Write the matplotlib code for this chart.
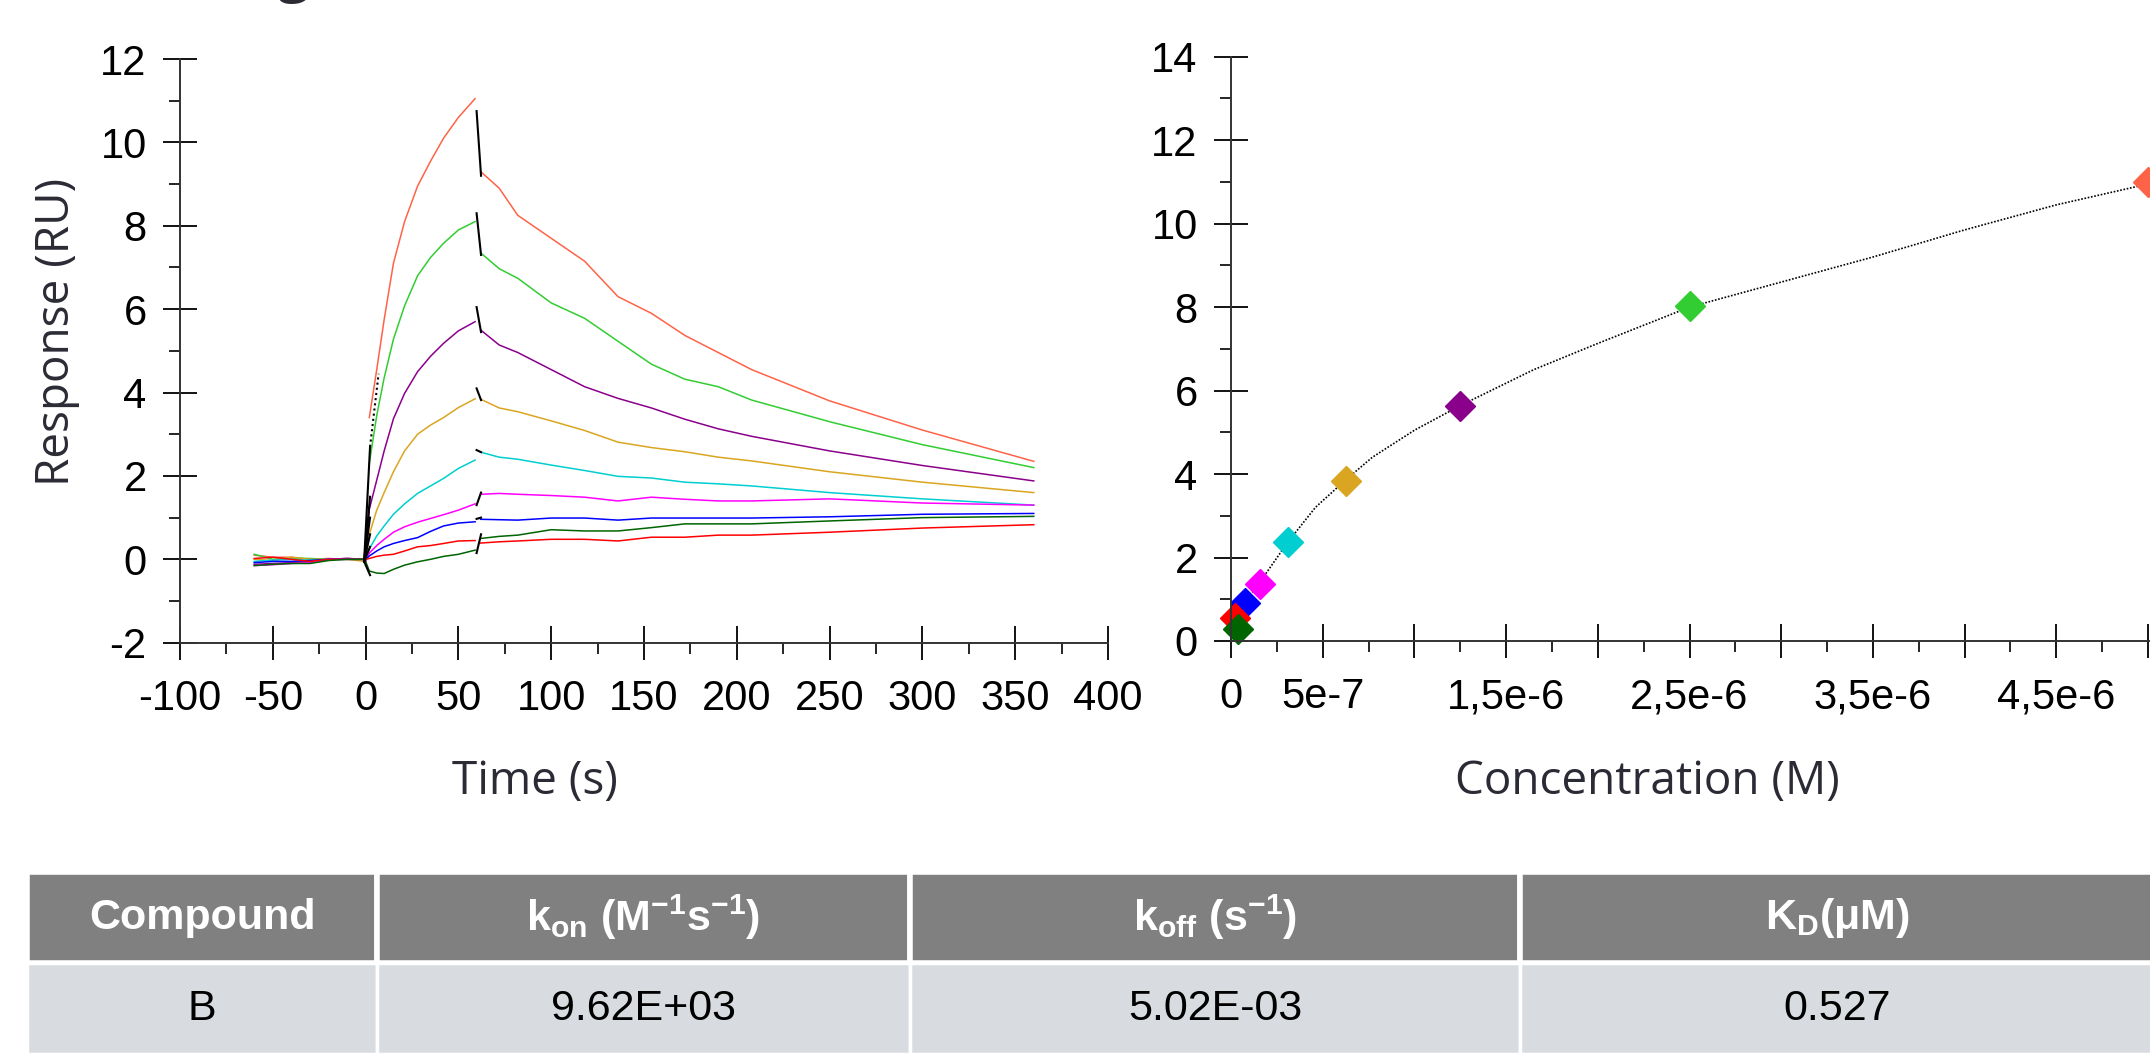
import numpy as np
import matplotlib
matplotlib.use("Agg")
import matplotlib.pyplot as plt
from matplotlib.ticker import MultipleLocator, FixedLocator, FixedFormatter

plt.rcParams['font.family'] = ['Liberation Sans', 'DejaVu Sans']
plt.rcParams['axes.unicode_minus'] = False
plt.rcParams['mathtext.fontset'] = 'custom'
plt.rcParams['mathtext.rm'] = 'Liberation Sans:bold'
plt.rcParams['mathtext.it'] = 'Liberation Sans:bold'
plt.rcParams['mathtext.bf'] = 'Liberation Sans:bold'

# ---------------- sensorgram data ----------------
colors = ['tomato', 'limegreen', 'darkmagenta', 'goldenrod', 'darkturquoise',
          'magenta', 'blue', 'red', 'darkgreen']

t_base = [-60, -50, -40, -30, -20, -10, 0]
base_resp = [
    [0.10, 0.05, 0.05, 0.00, 0.02, 0.00, 0.00],
    [0.12, 0.00, 0.03, 0.02, 0.00, 0.02, 0.00],
    [-0.12, -0.10, -0.08, -0.05, 0.00, 0.02, 0.00],
    [0.00, -0.03, 0.05, 0.00, 0.00, 0.00, -0.05],
    [-0.05, -0.02, 0.00, -0.02, 0.00, 0.00, 0.00],
    [-0.15, -0.13, -0.10, -0.08, 0.00, 0.02, 0.00],
    [-0.08, -0.05, -0.05, -0.03, 0.00, 0.00, 0.00],
    [0.02, 0.05, 0.00, -0.05, 0.00, 0.00, 0.00],
    [-0.15, -0.12, -0.10, -0.10, -0.03, 0.00, 0.00],
]

t_assoc = [0, 2, 6, 10, 15, 21, 28, 35, 42, 50, 59]
assoc_resp = [
    [np.nan, 3.40, 4.55, 5.75, 7.10, 8.10, 8.95, 9.55, 10.10, 10.60, 11.05],
    [np.nan, 2.30, 3.45, 4.35, 5.28, 6.08, 6.80, 7.24, 7.58, 7.90, 8.10],
    [0.00, 1.20, 1.90, 2.60, 3.37, 3.98, 4.50, 4.87, 5.18, 5.48, 5.70],
    [0.00, 0.60, 1.18, 1.60, 2.10, 2.60, 3.00, 3.22, 3.40, 3.64, 3.85],
    [0.00, 0.25, 0.56, 0.80, 1.08, 1.33, 1.58, 1.76, 1.94, 2.18, 2.38],
    [-0.05, 0.15, 0.33, 0.48, 0.65, 0.78, 0.89, 0.98, 1.07, 1.18, 1.33],
    [0.00, 0.08, 0.20, 0.30, 0.38, 0.45, 0.52, 0.67, 0.80, 0.87, 0.90],
    [0.00, 0.02, 0.07, 0.10, 0.12, 0.20, 0.30, 0.33, 0.38, 0.44, 0.45],
    [-0.05, -0.28, -0.33, -0.34, -0.24, -0.14, -0.06, 0.00, 0.07, 0.12, 0.22],
]

t_dissoc = [62, 72, 82, 100, 118, 136, 154, 172, 190, 208, 250, 300, 360]
dissoc_resp = [
    [9.30, 8.90, 8.25, 7.70, 7.15, 6.30, 5.90, 5.37, 4.96, 4.55, 3.80, 3.10, 2.35],
    [7.35, 6.97, 6.74, 6.15, 5.78, 5.23, 4.68, 4.32, 4.14, 3.82, 3.30, 2.75, 2.20],
    [5.50, 5.14, 4.96, 4.55, 4.14, 3.86, 3.63, 3.36, 3.13, 2.95, 2.60, 2.25, 1.88],
    [3.84, 3.63, 3.54, 3.32, 3.09, 2.81, 2.68, 2.58, 2.45, 2.36, 2.10, 1.85, 1.60],
    [2.57, 2.45, 2.40, 2.26, 2.13, 1.99, 1.95, 1.85, 1.81, 1.76, 1.60, 1.45, 1.30],
    [1.56, 1.58, 1.56, 1.53, 1.49, 1.40, 1.49, 1.44, 1.40, 1.40, 1.45, 1.35, 1.30],
    [0.96, 0.95, 0.94, 0.99, 0.99, 0.94, 0.99, 0.99, 0.99, 0.99, 1.02, 1.08, 1.10],
    [0.39, 0.42, 0.44, 0.48, 0.48, 0.44, 0.53, 0.53, 0.58, 0.58, 0.65, 0.75, 0.83],
    [0.50, 0.55, 0.58, 0.71, 0.68, 0.68, 0.76, 0.85, 0.85, 0.85, 0.92, 1.00, 1.03],
]

# black fit pieces: jump at end of injection (t 60 -> 62) and start of injection
fit_jump_t = [59.8, 62.2]
fit_jump = [[10.75, 9.20], [8.30, 7.30], [6.05, 5.45], [4.10, 3.82], [2.62, 2.57],
            [1.30, 1.60], [0.97, 1.00], [0.15, 0.60]]
fit_start_t = [-0.8, 2.4]
fit_start = [[-0.05, 2.70], [-0.05, 1.50], [-0.05, 1.00], [-0.05, 0.60],
             [-0.05, 0.30], [-0.05, -0.38]]
fit_dot_t = [2.4, 7.0]
fit_dot = [2.70, 4.45]

# ---------------- steady-state data ----------------
conc = [5.0e-6, 2.5e-6, 1.25e-6, 6.25e-7, 3.125e-7, 1.5625e-7, 7.8e-8, 1.95e-8, 3.9e-8]
req = [11.0, 8.02, 5.63, 3.84, 2.38, 1.37, 0.92, 0.54, 0.28]
fit_conc = [0, 2e-8, 7.8e-8, 1.56e-7, 3.1e-7, 4.6e-7, 6.2e-7, 7.7e-7, 1.0e-6, 1.25e-6,
            1.65e-6, 2.0e-6, 2.5e-6, 3.0e-6, 3.5e-6, 4.0e-6, 4.5e-6, 5.0e-6]
fit_req = [0, 0.28, 0.95, 1.40, 2.37, 3.20, 3.84, 4.40, 5.05, 5.64,
           6.50, 7.13, 8.00, 8.60, 9.20, 9.85, 10.45, 10.95]

xt_conc = [i * 5e-7 for i in range(11)]
xt_conc_lab = ['0', '5e-7', '', '1,5e-6', '', '2,5e-6', '', '3,5e-6', '', '4,5e-6', '']

# ---------------- table ----------------
headers = ['Compound', r'k$_{\mathrm{on}}$ (M$^{\mathrm{-1}}$s$^{\mathrm{-1}}$)',
           r'k$_{\mathrm{off}}$ (s$^{\mathrm{-1}}$)', r'K$_{\mathrm{D}}$(μM)']
row = ['B', '9.62E+03', '5.02E-03', '0.527']
col_w = [350, 532, 610, 633]

W, H = 2150, 1054
fig = plt.figure(figsize=(W / 100, H / 100), dpi=100)

label_font = ['Open Sans', 'DejaVu Sans']
label_col = '#2b2b36'


def style(ax):
    for s in ['top', 'right']:
        ax.spines[s].set_visible(False)
    for s in ['left', 'bottom']:
        ax.spines[s].set_color('#333333')
        ax.spines[s].set_linewidth(1.4)
    ax.tick_params(which='major', direction='inout', length=24, width=1.3,
                   color='black', labelsize=30, pad=12)
    ax.tick_params(which='minor', direction='out', length=8, width=1.2, color='black')
    ax.tick_params(axis='x', which='major', pad=14)


# left: sensorgram
ax1 = fig.add_axes([180 / W, 1 - 642.7 / H, 928 / W, (642.7 - 59) / H])
for i, c in enumerate(colors):
    ax1.plot(t_base, base_resp[i], color=c, lw=1.1)
    ax1.plot(t_assoc, assoc_resp[i], color=c, lw=1.1)
    ax1.plot(t_dissoc, dissoc_resp[i], color=c, lw=1.1)
for seg in fit_jump:
    ax1.plot(fit_jump_t, seg, color='black', lw=1.5)
for seg in fit_start:
    ax1.plot(fit_start_t, seg, color='black', lw=1.5)
ax1.plot(fit_dot_t, fit_dot, color='black', lw=1.5, ls=(0, (1, 1.5)))
ax1.set_xlim(-100, 400)
ax1.set_ylim(-2, 12)
ax1.xaxis.set_major_locator(MultipleLocator(50))
ax1.xaxis.set_minor_locator(MultipleLocator(25))
ax1.yaxis.set_major_locator(MultipleLocator(2))
ax1.yaxis.set_minor_locator(MultipleLocator(1))
style(ax1)
ax1.patch.set_alpha(0)

# right: steady state
ax2 = fig.add_axes([1231 / W, 1 - 641 / H, (W - 1231) / W, 584.3 / H])
ax2.plot(fit_conc, fit_req, color='black', lw=1.2, ls=(0, (1, 1)))
for x, y, c in zip(conc, req, colors):
    ax2.plot(x, y, marker='D', ms=15, color=c, mec=c, clip_on=False)
ax2.set_xlim(0, (W - 1231) / 183.4 * 1e-6)
ax2.set_ylim(0, 14)
ax2.xaxis.set_major_locator(FixedLocator(xt_conc))
ax2.xaxis.set_major_formatter(FixedFormatter(xt_conc_lab))
ax2.xaxis.set_minor_locator(MultipleLocator(2.5e-7))
ax2.yaxis.set_major_locator(MultipleLocator(2))
ax2.yaxis.set_minor_locator(MultipleLocator(1))
style(ax2)
ax2.patch.set_alpha(0)

fig.text(535 / W, 1 - 782 / H, 'Time (s)', ha='center', va='center',
         fontsize=33, family=label_font, color=label_col)
fig.text(1647 / W, 1 - 782 / H, 'Concentration (M)', ha='center', va='center',
         fontsize=33, family=label_font, color=label_col)
fig.text(57 / W, 1 - 332 / H, 'Response (RU)', ha='center', va='center',
         rotation=90, fontsize=33, family=label_font, color=label_col)
# title cut off by the top edge (only the descender shows)
fig.text(310 / W, 1 + 9 / H, 'Binding', ha='right', va='baseline',
         fontsize=40, family=label_font, color=label_col, fontweight='bold')

# table
tax = fig.add_axes([27 / W, 0, (W + 4 - 27) / W, (H - 872) / H])
tax.axis('off')
cw = [w / sum(col_w) for w in col_w]
t_head = tax.table(cellText=[headers], cellColours=[['#808080'] * 4],
                   colWidths=cw, cellLoc='center', bbox=[0, 91 / 182, 1, 91 / 182])
t_row = tax.table(cellText=[row], cellColours=[['#d8dbe0'] * 4],
                  colWidths=cw, cellLoc='center', bbox=[0, 0, 1, 91 / 182])
for tb, col, wt in [(t_head, 'white', 'bold'), (t_row, 'black', 'normal')]:
    tb.auto_set_font_size(False)
    for cell in tb.get_celld().values():
        cell.set_edgecolor('white')
        cell.set_linewidth(2.5)
        cell.get_text().set_fontsize(31)
        cell.get_text().set_color(col)
        cell.get_text().set_fontweight(wt)
for cell in t_head.get_celld().values():
    cell.set_linewidth(4)

fig.savefig('out.png', dpi=100)
